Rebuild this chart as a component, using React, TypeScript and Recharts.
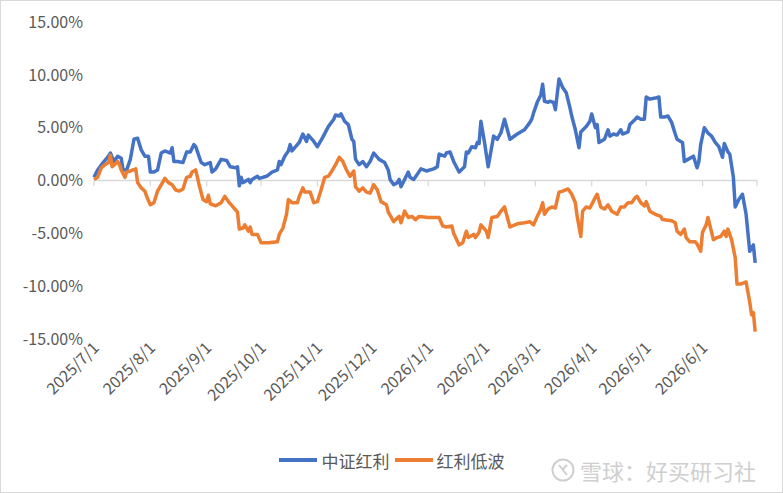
import { LineChart, Line, XAxis, YAxis, ReferenceLine, Legend } from 'recharts';

// 区间累计收益（%），2025/7/1 起
const blueDates = [
  '2025/7/1', '2025/7/3', '2025/7/6', '2025/7/9', '2025/7/10', '2025/7/12', '2025/7/14', '2025/7/16', '2025/7/17', '2025/7/19',
  '2025/7/21', '2025/7/23', '2025/7/25', '2025/7/27', '2025/7/29', '2025/7/31', '2025/8/1', '2025/8/3', '2025/8/5', '2025/8/7',
  '2025/8/9', '2025/8/12', '2025/8/13', '2025/8/14', '2025/8/16', '2025/8/19', '2025/8/21', '2025/8/23', '2025/8/25', '2025/8/26',
  '2025/8/29', '2025/8/31', '2025/9/3', '2025/9/4', '2025/9/6', '2025/9/9', '2025/9/12', '2025/9/14', '2025/9/17', '2025/9/18',
  '2025/9/19', '2025/9/20', '2025/9/21', '2025/9/24', '2025/9/25', '2025/9/26', '2025/9/29', '2025/9/30', '2025/10/4', '2025/10/7',
  '2025/10/10', '2025/10/11', '2025/10/12', '2025/10/14', '2025/10/16', '2025/10/17', '2025/10/18', '2025/10/20', '2025/10/22', '2025/10/24',
  '2025/10/26', '2025/10/27', '2025/10/30', '2025/11/1', '2025/11/4', '2025/11/7', '2025/11/10', '2025/11/11', '2025/11/13', '2025/11/14',
  '2025/11/16', '2025/11/18', '2025/11/20', '2025/11/21', '2025/11/22', '2025/11/24', '2025/11/26', '2025/11/28', '2025/11/30', '2025/12/2',
  '2025/12/5', '2025/12/8', '2025/12/10', '2025/12/11', '2025/12/13', '2025/12/15', '2025/12/16', '2025/12/17', '2025/12/19', '2025/12/21',
  '2025/12/22', '2025/12/24', '2025/12/28', '2025/12/31', '2026/1/4', '2026/1/6', '2026/1/7', '2026/1/10', '2026/1/11', '2026/1/13',
  '2026/1/15', '2026/1/18', '2026/1/21', '2026/1/22', '2026/1/23', '2026/1/25', '2026/1/27', '2026/1/28', '2026/1/29', '2026/1/30',
  '2026/2/1', '2026/2/3', '2026/2/6', '2026/2/8', '2026/2/10', '2026/2/12', '2026/2/15', '2026/2/19', '2026/2/23', '2026/2/26',
  '2026/2/27', '2026/2/28', '2026/3/2', '2026/3/4', '2026/3/5', '2026/3/6', '2026/3/8', '2026/3/9', '2026/3/11', '2026/3/12',
  '2026/3/14', '2026/3/16', '2026/3/18', '2026/3/20', '2026/3/21', '2026/3/23', '2026/3/25', '2026/3/26', '2026/3/29', '2026/3/31',
  '2026/4/1', '2026/4/3', '2026/4/4', '2026/4/5', '2026/4/8', '2026/4/10', '2026/4/11', '2026/4/13', '2026/4/15', '2026/4/17',
  '2026/4/18', '2026/4/21', '2026/4/22', '2026/4/25', '2026/4/26', '2026/4/28', '2026/4/30', '2026/5/1', '2026/5/3', '2026/5/6',
  '2026/5/8', '2026/5/9', '2026/5/11', '2026/5/13', '2026/5/15', '2026/5/17', '2026/5/18', '2026/5/20', '2026/5/21', '2026/5/22',
  '2026/5/24', '2026/5/27', '2026/5/29', '2026/5/30', '2026/5/31', '2026/6/2', '2026/6/4', '2026/6/6', '2026/6/8', '2026/6/10',
  '2026/6/12', '2026/6/13', '2026/6/15', '2026/6/16', '2026/6/18', '2026/6/19', '2026/6/21', '2026/6/23', '2026/6/25', '2026/6/27',
  '2026/6/29', '2026/6/30',
];
const blueValues = [
  0.3, 1.0, 1.7, 2.3, 2.6, 1.8, 2.3, 2.1, 1.0, 1.0,
  2.0, 3.9, 4.0, 2.9, 2.3, 2.3, 0.8, 0.8, 1.0, 2.6,
  2.8, 2.6, 3.1, 1.8, 1.8, 1.7, 2.7, 2.7, 3.4, 3.2,
  1.7, 1.5, 1.7, 0.8, 1.1, 2.0, 1.9, 1.3, 1.2, 1.3,
  -0.5, 0.3, -0.2, 0.1, -0.2, 0.1, 0.4, 0.2, 0.4, 0.8,
  1.0, 1.8, 1.5, 2.3, 2.8, 3.4, 2.8, 3.2, 3.6, 4.4,
  3.7, 4.3, 3.7, 3.2, 4.1, 5.1, 5.8, 6.2, 6.1, 6.3,
  5.6, 5.3, 3.9, 3.7, 2.0, 1.5, 1.8, 1.3, 1.8, 2.6,
  2.0, 1.7, 1.0, 0.1, -0.4, -0.2, 0.1, -0.6, 0.1, 0.8,
  0.3, 0.1, 1.1, 0.9, 1.1, 1.3, 2.5, 2.3, 2.6, 2.7,
  1.8, 0.8, 1.3, 2.7, 2.6, 3.2, 3.1, 3.6, 3.5, 5.6,
  3.6, 1.3, 4.2, 3.9, 4.5, 5.8, 3.9, 4.4, 4.8, 5.5,
  5.8, 6.4, 7.4, 8.1, 9.1, 7.5, 7.4, 7.5, 7.4, 6.7,
  9.6, 8.8, 8.3, 6.9, 6.1, 4.8, 3.1, 4.6, 5.1, 5.6,
  6.3, 5.0, 5.3, 3.6, 3.9, 4.8, 4.2, 4.4, 4.3, 4.8,
  4.4, 4.6, 5.3, 5.8, 6.0, 5.8, 5.8, 7.9, 7.7, 7.8,
  7.9, 6.0, 6.0, 6.1, 5.5, 4.4, 3.9, 3.7, 3.6, 1.8,
  2.0, 2.3, 1.2, 1.8, 3.4, 5.0, 4.5, 4.2, 3.6, 3.2,
  2.2, 3.5, 2.7, 2.5, 0.3, -2.5, -1.8, -1.3, -3.2, -6.7,
  -6.1, -7.8,
];

const orangeDates = [
  '2025/7/1', '2025/7/3', '2025/7/5', '2025/7/7', '2025/7/9', '2025/7/10', '2025/7/11', '2025/7/14', '2025/7/15', '2025/7/16',
  '2025/7/18', '2025/7/19', '2025/7/21', '2025/7/24', '2025/7/25', '2025/7/27', '2025/7/29', '2025/7/30', '2025/8/1', '2025/8/3',
  '2025/8/5', '2025/8/8', '2025/8/9', '2025/8/11', '2025/8/13', '2025/8/15', '2025/8/17', '2025/8/19', '2025/8/21', '2025/8/23',
  '2025/8/24', '2025/8/26', '2025/8/28', '2025/8/30', '2025/9/1', '2025/9/2', '2025/9/3', '2025/9/6', '2025/9/9', '2025/9/11',
  '2025/9/13', '2025/9/16', '2025/9/18', '2025/9/19', '2025/9/21', '2025/9/22', '2025/9/24', '2025/9/25', '2025/9/26', '2025/9/29',
  '2025/10/1', '2025/10/5', '2025/10/10', '2025/10/11', '2025/10/13', '2025/10/15', '2025/10/16', '2025/10/18', '2025/10/21', '2025/10/22',
  '2025/10/24', '2025/10/25', '2025/10/28', '2025/10/30', '2025/11/1', '2025/11/3', '2025/11/5', '2025/11/7', '2025/11/9', '2025/11/11',
  '2025/11/13', '2025/11/15', '2025/11/17', '2025/11/19', '2025/11/21', '2025/11/22', '2025/11/24', '2025/11/26', '2025/11/28', '2025/11/30',
  '2025/12/2', '2025/12/4', '2025/12/6', '2025/12/9', '2025/12/10', '2025/12/13', '2025/12/14', '2025/12/16', '2025/12/17', '2025/12/19',
  '2025/12/21', '2025/12/23', '2025/12/25', '2025/12/27', '2026/1/1', '2026/1/7', '2026/1/9', '2026/1/11', '2026/1/14', '2026/1/15',
  '2026/1/18', '2026/1/20', '2026/1/22', '2026/1/23', '2026/1/26', '2026/1/27', '2026/1/29', '2026/1/30', '2026/2/2', '2026/2/3',
  '2026/2/5', '2026/2/8', '2026/2/10', '2026/2/12', '2026/2/15', '2026/2/19', '2026/2/23', '2026/2/26', '2026/2/28', '2026/3/2',
  '2026/3/4', '2026/3/5', '2026/3/6', '2026/3/8', '2026/3/10', '2026/3/12', '2026/3/14', '2026/3/16', '2026/3/19', '2026/3/21',
  '2026/3/23', '2026/3/24', '2026/3/26', '2026/3/27', '2026/3/29', '2026/3/31', '2026/4/3', '2026/4/4', '2026/4/6', '2026/4/8',
  '2026/4/10', '2026/4/12', '2026/4/15', '2026/4/17', '2026/4/19', '2026/4/21', '2026/4/23', '2026/4/25', '2026/4/26', '2026/4/28',
  '2026/4/30', '2026/5/1', '2026/5/3', '2026/5/6', '2026/5/9', '2026/5/10', '2026/5/15', '2026/5/17', '2026/5/18', '2026/5/20',
  '2026/5/22', '2026/5/23', '2026/5/25', '2026/5/28', '2026/5/29', '2026/5/31', '2026/6/1', '2026/6/3', '2026/6/4', '2026/6/5',
  '2026/6/7', '2026/6/9', '2026/6/11', '2026/6/13', '2026/6/14', '2026/6/15', '2026/6/17', '2026/6/19', '2026/6/20', '2026/6/22',
  '2026/6/25', '2026/6/27', '2026/6/28', '2026/6/29', '2026/6/30',
];
const orangeValues = [
  0.1, 0.3, 1.2, 1.5, 1.7, 2.4, 1.3, 1.8, 1.5, 1.0,
  0.3, 0.8, 0.9, 1.1, -0.2, -0.7, -1.0, -1.5, -2.3, -2.1,
  -1.0, -0.1, 0.2, -0.2, -0.4, -0.9, -1.0, -0.8, 0.3, 0.4,
  0.8, 1.0, -0.5, -1.8, -2.0, -1.4, -2.2, -2.4, -2.1, -1.5,
  -2.0, -2.6, -3.0, -4.6, -4.5, -4.2, -4.8, -4.4, -5.1, -5.1,
  -5.9, -5.9, -5.8, -5.1, -4.5, -3.2, -1.8, -2.1, -2.1, -1.5,
  -0.7, -1.1, -1.1, -2.1, -2.0, -0.9, 0.3, 0.4, 0.9, 1.5,
  2.2, 1.8, 1.0, 0.4, 0.9, -0.6, -1.0, -0.7, -1.1, -1.2,
  -0.4, -0.9, -2.0, -2.3, -3.0, -3.9, -3.7, -3.4, -4.0, -2.9,
  -3.5, -3.4, -3.7, -3.4, -3.5, -3.5, -4.3, -4.4, -4.3, -5.0,
  -6.1, -5.9, -4.8, -5.4, -5.1, -5.4, -4.9, -4.2, -4.8, -5.4,
  -3.5, -3.4, -2.9, -2.5, -4.4, -4.1, -4.0, -3.9, -4.2, -3.4,
  -2.7, -2.1, -3.2, -2.7, -2.5, -2.6, -1.1, -1.0, -0.8, -1.3,
  -2.1, -3.4, -5.3, -2.9, -2.5, -2.6, -1.6, -1.3, -2.5, -2.7,
  -2.3, -2.9, -3.2, -2.5, -2.5, -2.1, -2.1, -1.6, -1.5, -2.1,
  -2.4, -2.0, -2.9, -3.2, -3.4, -3.7, -3.8, -4.0, -4.8, -5.1,
  -4.6, -5.4, -5.8, -5.8, -6.0, -6.7, -4.9, -4.2, -3.5, -4.2,
  -5.6, -5.4, -5.3, -4.8, -5.3, -4.6, -5.6, -7.3, -9.8, -9.8,
  -9.6, -11.5, -12.7, -12.5, -14.3,
];

const tickDates = [
  '2025/7/1', '2025/8/1', '2025/9/1', '2025/10/1', '2025/11/1', '2025/12/1',
  '2026/1/1', '2026/2/1', '2026/3/1', '2026/4/1', '2026/5/1', '2026/6/1',
];
const axisEnd = '2026/7/1';
const yTicks = [-15, -10, -5, 0, 5, 10, 15];

const FONT = '"Noto Sans CJK SC", "Noto Sans", sans-serif';
const BLUE = '#4472C4';
const ORANGE = '#ED7D31';

const dayOffset = (s: string) => {
  const [y, m, d] = s.split('/').map(Number);
  return (Date.UTC(y, m - 1, d) - Date.UTC(2025, 6, 1)) / 86400000;
};

const blueData = blueDates.map((d, i) => ({ t: dayOffset(d), v: blueValues[i] }));
const orangeData = orangeDates.map((d, i) => ({ t: dayOffset(d), v: orangeValues[i] }));
const labelByOffset: Record<number, string> = {};
tickDates.forEach((d) => (labelByOffset[dayOffset(d)] = d));
const xTicks = [...tickDates, axisEnd].map(dayOffset);

const DateTick = ({ x, y, payload }: any) => {
  const label = labelByOffset[payload.value];
  if (!label) return null;
  const ax = x + 2;
  const ay = y;
  return (
    <text
      x={ax}
      y={ay}
      dy="0.35em"
      textAnchor="end"
      transform={`rotate(-45 ${ax} ${ay})`}
      fill="#595959"
      fontSize={16}
      fontFamily={FONT}
    >
      {label}
    </text>
  );
};

const LegendBox = () => (
  <div
    style={{
      display: 'flex',
      justifyContent: 'center',
      alignItems: 'center',
      height: 30,
      fontFamily: FONT,
      fontSize: 17,
      color: '#595959',
    }}
  >
    <span style={{ width: 38, height: 4, background: BLUE, marginRight: 5 }} />
    <span style={{ marginRight: 5 }}>中证红利</span>
    <span style={{ width: 38, height: 4, background: ORANGE, marginRight: 4 }} />
    <span>红利低波</span>
  </div>
);

export default function App() {
  return (
    <div style={{ position: 'absolute', left: 0, top: 0, width: 783, height: 493, background: '#fff' }}>
      <LineChart width={783} height={493} margin={{ top: 22, right: 26, left: 0, bottom: 18 }}>
        <XAxis
          type="number"
          dataKey="t"
          domain={[0, dayOffset(axisEnd)]}
          ticks={xTicks}
          interval={0}
          tick={<DateTick />}
          axisLine={false}
          tickLine={false}
          tickSize={0}
          tickMargin={6}
          height={106}
        />
        <YAxis
          domain={[-15, 15]}
          ticks={yTicks}
          tickFormatter={(v: number) => v.toFixed(2) + '%'}
          axisLine={false}
          tickLine={false}
          tickSize={0}
          tickMargin={11}
          width={94}
          tick={{ fill: '#595959', fontSize: 16, fontFamily: FONT }}
        />
        <ReferenceLine y={0} stroke="#d9d9d9" strokeWidth={1.3} />
        {xTicks.map((t) => (
          <ReferenceLine
            key={t}
            segment={[{ x: t, y: 0 }, { x: t, y: -0.55 }]}
            stroke="#d9d9d9"
            strokeWidth={1.3}
          />
        ))}
        <Line
          data={blueData}
          dataKey="v"
          name="中证红利"
          stroke={BLUE}
          strokeWidth={3.5}
          strokeLinejoin="round"
          dot={false}
          isAnimationActive={false}
        />
        <Line
          data={orangeData}
          dataKey="v"
          name="红利低波"
          stroke={ORANGE}
          strokeWidth={3.5}
          strokeLinejoin="round"
          dot={false}
          isAnimationActive={false}
        />
        <Legend
          verticalAlign="bottom"
          content={<LegendBox />}
          wrapperStyle={{ left: 0, width: 783 }}
        />
      </LineChart>
      {/* 水印 */}
      <div
        style={{
          position: 'absolute',
          left: 551,
          top: 454,
          display: 'flex',
          alignItems: 'center',
          fontFamily: FONT,
          fontSize: 22,
          color: '#cfcfcf',
        }}
      >
        <svg width={24} height={24} style={{ marginRight: 5 }}>
          <circle cx={12} cy={12} r={10.5} fill="none" stroke="#cfcfcf" strokeWidth={2} />
          <path d="M8 7 L16 17 M16 7 L11 12" stroke="#cfcfcf" strokeWidth={2} fill="none" />
        </svg>
        <span>雪球：好买研习社</span>
      </div>
      <div
        style={{
          position: 'absolute',
          left: 0,
          top: 0,
          width: 783,
          height: 493,
          boxSizing: 'border-box',
          border: '1px solid #d9d9d9',
          pointerEvents: 'none',
        }}
      />
    </div>
  );
}
